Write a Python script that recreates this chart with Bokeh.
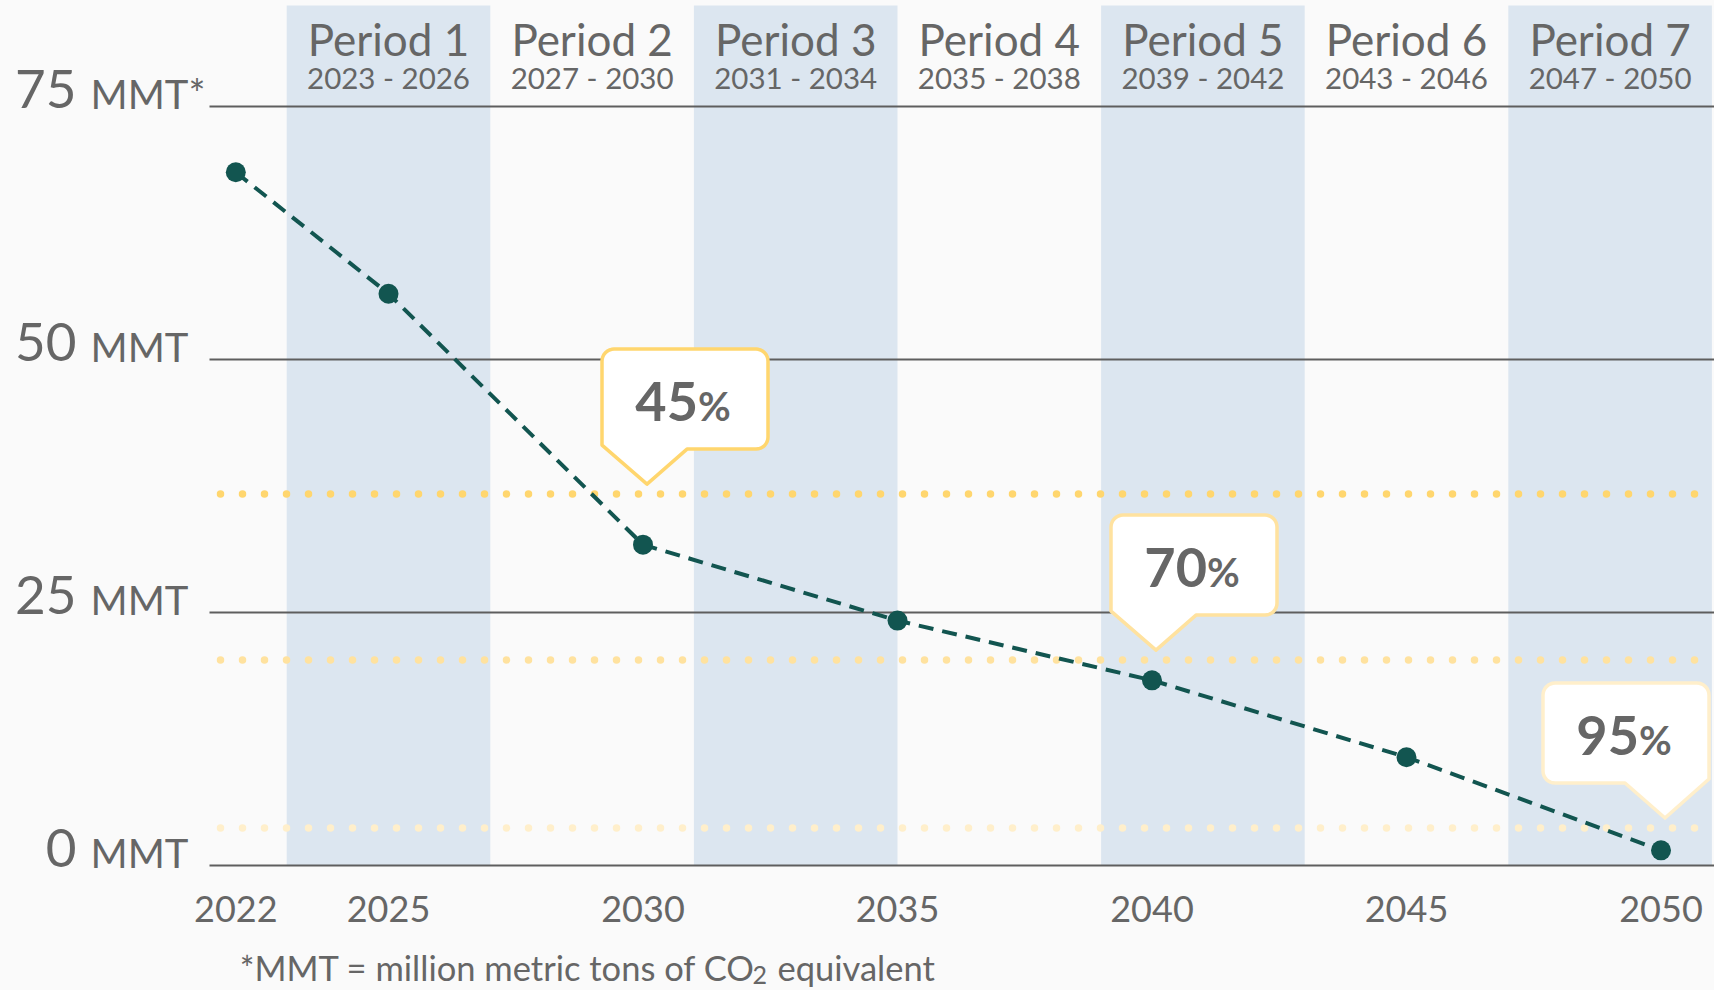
import math
from bokeh.plotting import figure
from bokeh.models import Range1d
from bokeh.core.properties import value
from bokeh.embed import file_html
from bokeh.resources import INLINE

# ---------------- data ----------------
years = [2022, 2025, 2030, 2035, 2040, 2045, 2050]
emissions = [68.5, 56.5, 31.7, 24.2, 18.3, 10.7, 1.5]
x_tick_labels = ["2022", "2025", "2030", "2035", "2040", "2045", "2050"]

y_ticks = [0, 25, 50, 75]
y_tick_numbers = ["0", "25", "50", "75"]
y_tick_units = ["MMT", "MMT", "MMT", "MMT*"]

period_names = ["Period 1", "Period 2", "Period 3", "Period 4", "Period 5", "Period 6", "Period 7"]
period_ranges = ["2023 - 2026", "2027 - 2030", "2031 - 2034", "2035 - 2038",
                 "2039 - 2042", "2043 - 2046", "2047 - 2050"]
period_start = [2023, 2027, 2031, 2035, 2039, 2043, 2047]
period_end = [2026, 2030, 2034, 2038, 2042, 2046, 2050]

target_years = [2030, 2040, 2050]
target_levels = [36.7, 20.3, 3.7]
target_numbers = ["45", "70", "95"]
target_sides = ["left", "left", "right"]

footnote_main = "*MMT = million metric tons of CO"
footnote_sub = "2"
footnote_end = "equivalent"

# ---------------- styles / layout ----------------
BG = "#FAFAFA"
BAND = "#DCE6F0"
GRID = "#5E5E5E"
TEAL = "#125550"
TXT = "#666666"
TARGET_COLORS = ["#FFD66E", "#FFE29F", "#FFEFCB"]
FONT = value("Lato")

W, H = 1714, 990
PXY = 50.9       # px per year
PXU = 10.12      # px per MMT
X0 = 2035 - 897 / PXY
X1 = X0 + W / PXY
BASE_FIX = 0.35  # baseline correction (fraction of font size)


def X(px):   # page px -> data x
    return X0 + px / PXY


def Y(py):   # page py -> data y
    return (865 - py) / PXU


def TY(py, fs):  # text baseline at page py for font size fs
    return Y(py - BASE_FIX * fs)


def xp(x):
    return (x - X0) * PXY


def yp(y):
    return 865 - y * PXU


p = figure(width=W, height=H, output_backend="svg", toolbar_location=None,
           x_range=Range1d(X0, X1), y_range=Range1d(Y(H), Y(0)),
           x_axis_location=None, y_axis_location=None, min_border=0,
           background_fill_color=BG, border_fill_color=BG, outline_line_color=None)
p.grid.visible = False

# period bands
shaded = [i for i in range(len(period_start)) if i % 2 == 0]
p.quad(left=[period_start[i] for i in shaded], right=[period_end[i] + 1 for i in shaded],
       bottom=0, top=Y(5), fill_color=BAND, line_color=None)

# period labels
pc = [(s + e + 1) / 2 for s, e in zip(period_start, period_end)]
p.text(x=pc, y=[TY(54, 44)] * len(pc), text=period_names, text_font=FONT, text_font_size="44px",
       text_color=TXT, text_align="center", text_baseline="alphabetic")
p.text(x=pc, y=[TY(87, 29.5)] * len(pc), text=period_ranges, text_font=FONT,
       text_font_size="29.5px", text_color=TXT, text_align="center", text_baseline="alphabetic")

# horizontal grid lines
p.segment(x0=[X(209)] * len(y_ticks), x1=[X1] * len(y_ticks), y0=y_ticks, y1=y_ticks,
          line_color=GRID, line_width=2)

# y tick labels
p.text(x=[X(76)] * len(y_ticks), y=[TY(yp(v) + 1.5, 53) for v in y_ticks], text=y_tick_numbers,
       text_font=FONT, text_font_size="53px", text_color=TXT, text_align="right",
       text_baseline="alphabetic")
p.text(x=[X(90)] * len(y_ticks), y=[TY(yp(v) + 1.5, 40) for v in y_ticks], text=y_tick_units,
       text_font=FONT, text_font_size="40px", text_color=TXT, text_align="left",
       text_baseline="alphabetic")

# x tick labels
p.text(x=years, y=[TY(921, 36)] * len(years), text=x_tick_labels, text_font=FONT,
       text_font_size="36px", text_color=TXT, text_align="center", text_baseline="alphabetic")

# target dotted lines
for lvl, col in zip(target_levels, TARGET_COLORS):
    p.line(x=[X(220), X(1700)], y=[lvl, lvl], line_color=col, line_width=7.5,
           line_dash="0 22", line_cap="round")

# emissions line + points
p.line(x=years, y=emissions, line_color=TEAL, line_width=4, line_dash="15 9")
p.scatter(x=years, y=emissions, size=20, fill_color=TEAL, line_color=None)


# callout bubbles
def arc(cx, cy, r, a0, a1, n=8):
    pts = []
    for k in range(n + 1):
        a = math.radians(a0 + (a1 - a0) * k / n)
        pts.append((cx + r * math.cos(a), cy + r * math.sin(a)))
    return pts


bx, by, nx, ny, ny2 = [], [], [], [], []
for yr, lvl, num, side in zip(target_years, target_levels, target_numbers, target_sides):
    tx = xp(yr) + 4
    ty = yp(lvl) - 10
    r = 12
    T, B = ty - 135, ty - 35
    if side == "left":
        L = tx - 45
        R = L + 166
    else:
        R = tx + 44
        L = R - 166
    pts = arc(L + r, T + r, r, 180, 270) + arc(R - r, T + r, r, 270, 360)
    if side == "left":
        pts += arc(R - r, B - r, r, 0, 90)
        pts += [(tx + 40, B), (tx, ty), (L, B - 4)]
    else:
        pts += [(R, B - 4), (tx, ty), (tx - 40, B)]
        pts += arc(L + r, B - r, r, 90, 180)
    bx.append([X(a) for a, b in pts])
    by.append([Y(b) for a, b in pts])
    cx = (L + R) / 2
    nx.append(X(cx + 13))
    ny.append(TY((T + B) / 2 + 21, 54))
    ny2.append(TY((T + B) / 2 + 21, 40))

p.patches(xs=bx, ys=by, fill_color="white", line_color=TARGET_COLORS, line_width=3.5,
          line_join="round")
p.text(x=nx, y=ny, text=target_numbers, text_font=FONT, text_font_size="54px",
       text_font_style="bold", text_color=TXT, text_align="right", text_baseline="alphabetic")
p.text(x=nx, y=ny2, text=["%"] * len(nx), text_font=FONT, text_font_size="40px",
       text_font_style="bold", text_color=TXT, text_align="left", text_baseline="alphabetic")

# footnote
p.text(x=[X(755)], y=[TY(979, 34.5)], text=[footnote_main], text_font=FONT,
       text_font_size="34.5px", text_color=TXT, text_align="right", text_baseline="alphabetic")
p.text(x=[X(752)], y=[TY(983, 25)], text=[footnote_sub], text_font=FONT, text_font_size="25px",
       text_color=TXT, text_align="left", text_baseline="alphabetic")
p.text(x=[X(777)], y=[TY(979, 34.5)], text=[footnote_end], text_font=FONT,
       text_font_size="34.5px", text_color=TXT, text_align="left", text_baseline="alphabetic")

html = file_html(p, INLINE)
html = html.replace("<head>", "<head><style>body{background:#FAFAFA;}</style>", 1)
open("out.html", "w").write(html)
